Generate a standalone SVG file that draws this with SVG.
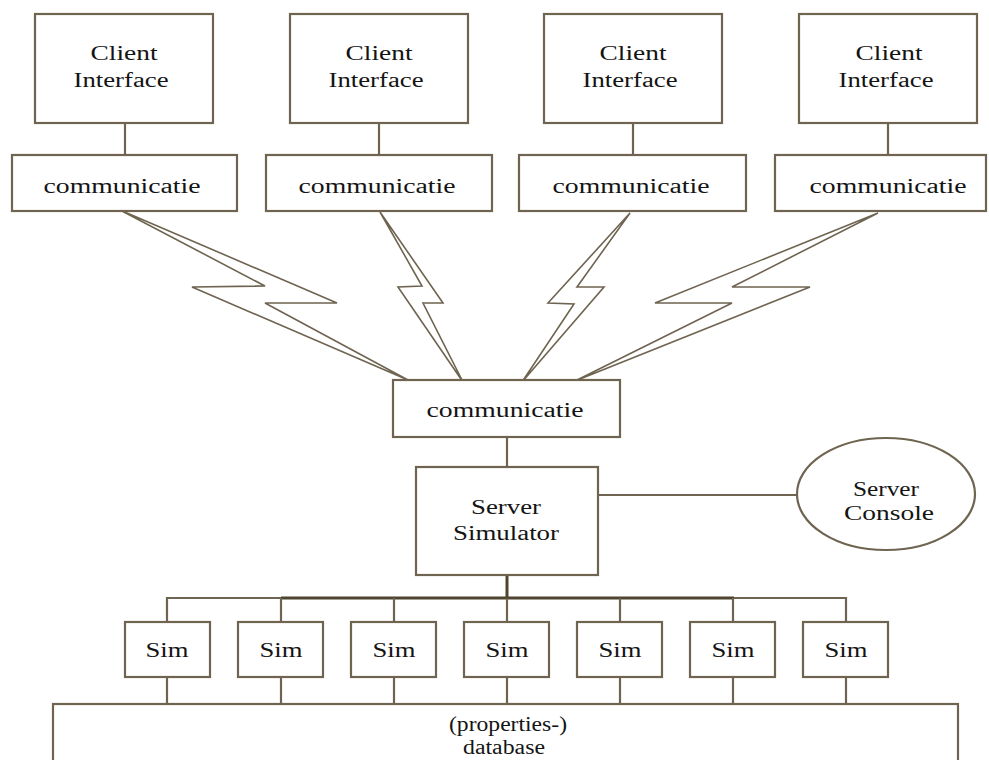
<svg xmlns="http://www.w3.org/2000/svg" width="989" height="760" viewBox="0 0 989 760">
  <style>
    .box { fill: #ffffff; stroke: #6e6450; stroke-width: 2.2; }
    .wire { fill: none; stroke: #6e6450; stroke-width: 2.2; }
    .bolt { fill: #ffffff; stroke: #6e6450; stroke-width: 1.6; stroke-linejoin: miter; }
    .trunk { fill: none; stroke: #4f4430; stroke-width: 3; }
    .lbl { font-family: "Liberation Serif", "Times New Roman", serif; font-size: 20px; fill: #141414; text-anchor: middle; }
  </style>
  <rect width="989" height="760" fill="#ffffff"/>

  <!-- connectors -->
  <g id="connectors">
    <!-- client to local communicatie -->
    <line class="wire" x1="125" y1="123" x2="125" y2="155"/>
    <line class="wire" x1="379" y1="123" x2="379" y2="155"/>
    <line class="wire" x1="633" y1="123" x2="633" y2="155"/>
    <line class="wire" x1="888" y1="123" x2="888" y2="155"/>
    <!-- wireless links (lightning bolts) -->
    <polygon class="bolt" points="120,210 265,286 192,287 408,380 265,303 337,303"/>
    <polygon class="bolt" points="380,212 422,286 398,287 463,382 423,303 443,303"/>
    <polygon class="bolt" points="630,213 577,287 604,287 522,382 574,304 548,303"/>
    <polygon class="bolt" points="878,213 732,287 810,287 575,381 732,303 655,303"/>
    <!-- server side -->
    <line class="wire" x1="507" y1="437" x2="507" y2="467"/>
    <line class="wire" x1="598" y1="495" x2="797" y2="495"/>
    <line class="trunk" x1="507" y1="575" x2="507" y2="598"/>
    <!-- simulator bus -->
    <polyline class="wire" points="167,622 167,598 846,598 846,622"/>
    <line class="trunk" x1="281" y1="598" x2="734" y2="598"/>
    <line class="wire" x1="281" y1="598" x2="281" y2="622"/>
    <line class="wire" x1="394" y1="598" x2="394" y2="622"/>
    <line class="wire" x1="507" y1="598" x2="507" y2="622"/>
    <line class="wire" x1="620" y1="598" x2="620" y2="622"/>
    <line class="wire" x1="733" y1="598" x2="733" y2="622"/>
    <!-- sims to database -->
    <line class="wire" x1="167" y1="677" x2="167" y2="704"/>
    <line class="wire" x1="281" y1="677" x2="281" y2="704"/>
    <line class="wire" x1="394" y1="677" x2="394" y2="704"/>
    <line class="wire" x1="507" y1="677" x2="507" y2="704"/>
    <line class="wire" x1="620" y1="677" x2="620" y2="704"/>
    <line class="wire" x1="733" y1="677" x2="733" y2="704"/>
    <line class="wire" x1="846" y1="677" x2="846" y2="704"/>
  </g>

  <!-- clients -->
  <g id="client-1">
    <rect class="box" x="35" y="14" width="178" height="109"/>
    <text class="lbl" x="124" y="60" textLength="67" lengthAdjust="spacingAndGlyphs">Client</text>
    <text class="lbl" x="121" y="87" textLength="95" lengthAdjust="spacingAndGlyphs">Interface</text>
  </g>
  <g id="client-2">
    <rect class="box" x="290" y="14" width="178" height="109"/>
    <text class="lbl" x="379" y="60" textLength="67" lengthAdjust="spacingAndGlyphs">Client</text>
    <text class="lbl" x="376" y="87" textLength="95" lengthAdjust="spacingAndGlyphs">Interface</text>
  </g>
  <g id="client-3">
    <rect class="box" x="544" y="14" width="178" height="109"/>
    <text class="lbl" x="633" y="60" textLength="67" lengthAdjust="spacingAndGlyphs">Client</text>
    <text class="lbl" x="630" y="87" textLength="95" lengthAdjust="spacingAndGlyphs">Interface</text>
  </g>
  <g id="client-4">
    <rect class="box" x="799" y="14" width="178" height="109"/>
    <text class="lbl" x="889" y="60" textLength="67" lengthAdjust="spacingAndGlyphs">Client</text>
    <text class="lbl" x="886" y="87" textLength="95" lengthAdjust="spacingAndGlyphs">Interface</text>
  </g>

  <!-- client-side communicatie -->
  <g id="comm-1">
    <rect class="box" x="12" y="155" width="225" height="56"/>
    <text class="lbl" x="122" y="193" textLength="157" lengthAdjust="spacingAndGlyphs">communicatie</text>
  </g>
  <g id="comm-2">
    <rect class="box" x="266" y="155" width="226" height="56"/>
    <text class="lbl" x="377" y="193" textLength="157" lengthAdjust="spacingAndGlyphs">communicatie</text>
  </g>
  <g id="comm-3">
    <rect class="box" x="519" y="155" width="227" height="56"/>
    <text class="lbl" x="631" y="193" textLength="157" lengthAdjust="spacingAndGlyphs">communicatie</text>
  </g>
  <g id="comm-4">
    <rect class="box" x="775" y="155" width="211" height="56"/>
    <text class="lbl" x="888" y="193" textLength="157" lengthAdjust="spacingAndGlyphs">communicatie</text>
  </g>

  <!-- server-side communicatie -->
  <g id="comm-server">
    <rect class="box" x="393" y="380" width="227" height="57"/>
    <text class="lbl" x="505" y="417" textLength="157" lengthAdjust="spacingAndGlyphs">communicatie</text>
  </g>

  <g id="server-simulator">
    <rect class="box" x="416" y="467" width="182" height="108"/>
    <text class="lbl" x="506" y="514" textLength="70" lengthAdjust="spacingAndGlyphs">Server</text>
    <text class="lbl" x="506" y="540" textLength="106" lengthAdjust="spacingAndGlyphs">Simulator</text>
  </g>

  <g id="server-console">
    <ellipse class="box" cx="886" cy="494" rx="89" ry="56"/>
    <text class="lbl" x="886" y="496" textLength="66" lengthAdjust="spacingAndGlyphs">Server</text>
    <text class="lbl" x="889" y="520" textLength="90" lengthAdjust="spacingAndGlyphs">Console</text>
  </g>

  <!-- simulators -->
  <g id="sim-1">
    <rect class="box" x="125" y="622" width="85" height="55"/>
    <text class="lbl" x="167" y="657" textLength="43" lengthAdjust="spacingAndGlyphs">Sim</text>
  </g>
  <g id="sim-2">
    <rect class="box" x="238" y="622" width="85" height="55"/>
    <text class="lbl" x="281" y="657" textLength="43" lengthAdjust="spacingAndGlyphs">Sim</text>
  </g>
  <g id="sim-3">
    <rect class="box" x="351" y="622" width="85" height="55"/>
    <text class="lbl" x="394" y="657" textLength="43" lengthAdjust="spacingAndGlyphs">Sim</text>
  </g>
  <g id="sim-4">
    <rect class="box" x="464" y="622" width="85" height="55"/>
    <text class="lbl" x="507" y="657" textLength="43" lengthAdjust="spacingAndGlyphs">Sim</text>
  </g>
  <g id="sim-5">
    <rect class="box" x="577" y="622" width="85" height="55"/>
    <text class="lbl" x="620" y="657" textLength="43" lengthAdjust="spacingAndGlyphs">Sim</text>
  </g>
  <g id="sim-6">
    <rect class="box" x="690" y="622" width="85" height="55"/>
    <text class="lbl" x="733" y="657" textLength="43" lengthAdjust="spacingAndGlyphs">Sim</text>
  </g>
  <g id="sim-7">
    <rect class="box" x="803" y="622" width="85" height="55"/>
    <text class="lbl" x="846" y="657" textLength="43" lengthAdjust="spacingAndGlyphs">Sim</text>
  </g>

  <!-- shared store -->
  <g id="database">
    <rect class="box" x="53" y="704" width="905" height="70"/>
    <text class="lbl" x="508" y="731" textLength="118" lengthAdjust="spacingAndGlyphs">(properties-)</text>
    <text class="lbl" x="504" y="754" textLength="82" lengthAdjust="spacingAndGlyphs">database</text>
  </g>
</svg>
